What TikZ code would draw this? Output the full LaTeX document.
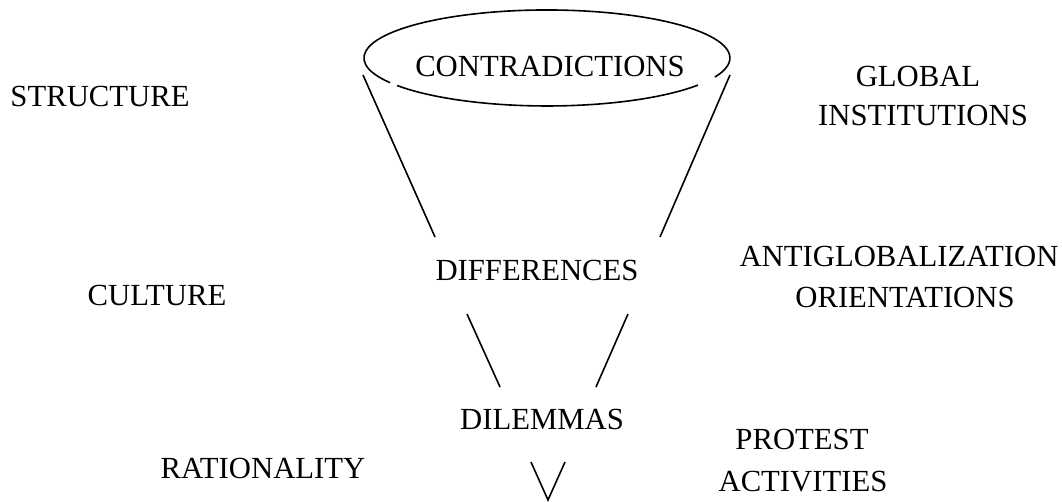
\documentclass[tikz,border=0pt]{standalone}
\usepackage{fontspec}
\setmainfont{Liberation Serif}
\begin{document}
\begin{tikzpicture}[x=0.5pt,y=-0.5pt,
  lbl/.style={anchor=base,inner sep=0pt,font=\fontsize{15.35}{18}\selectfont},
  ln/.style={line width=0.8pt}]
\useasboundingbox (0,0) rectangle (1062,502);
% labels (anchor at baseline centre)
\node[lbl] (contr) at (550,77) {CONTRADICTIONS};
\node[lbl] (diff) at (537,281) {DIFFERENCES};
\node[lbl] (dilem) at (542,430) {DILEMMAS};
\node[lbl] (struct) at (100,107) {STRUCTURE};
\node[lbl] (cult) at (157,306) {CULTURE};
\node[lbl] (ratio) at (263,479) {RATIONALITY};
\node[lbl] (glob1) at (918,87) {GLOBAL};
\node[lbl] (glob2) at (923,126) {INSTITUTIONS};
\node[lbl] (anti1) at (899,267) {ANTIGLOBALIZATION};
\node[lbl] (anti2) at (905,308) {ORIENTATIONS};
\node[lbl] (prot1) at (802,450) {PROTEST};
\node[lbl] (prot2) at (803,492) {ACTIVITIES};
% ellipse round CONTRADICTIONS (with small gaps as in the original)
\draw[ln] (698.0,85.1) arc[start angle=34.4,end angle=145,x radius=183,y radius=48];
\draw[ln] (390.1,82.7) arc[start angle=149,end angle=383.4,x radius=183,y radius=48];
% funnel sides
\coordinate (a1) at (363,75);  \coordinate (a2) at (435,237);
\coordinate (b1) at (730,75);  \coordinate (b2) at (660,237);
\coordinate (c1) at (467,314); \coordinate (c2) at (500,387);
\coordinate (d1) at (628,314); \coordinate (d2) at (596,387);
\coordinate (e1) at (531,462); \coordinate (e2) at (548,500);
\coordinate (e3) at (565,462);
\draw[ln] (a1) -- (a2);
\draw[ln] (b1) -- (b2);
\draw[ln] (c1) -- (c2);
\draw[ln] (d1) -- (d2);
\draw[ln] (e1) -- (e2) -- (e3);
\end{tikzpicture}
\end{document}
